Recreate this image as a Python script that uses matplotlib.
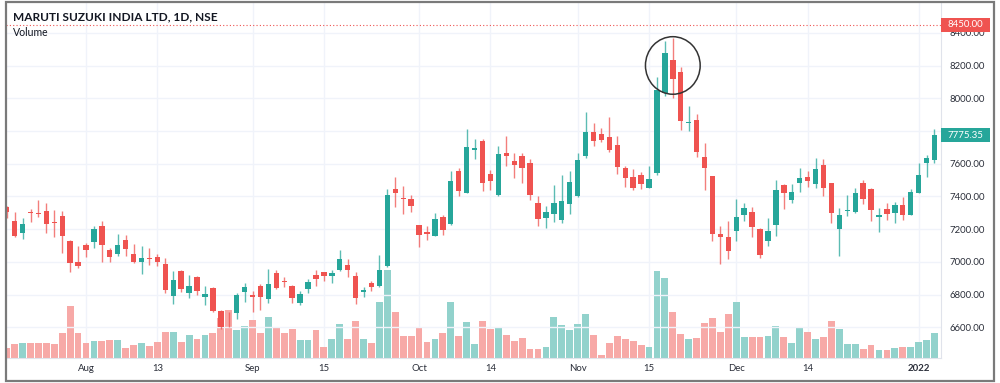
import numpy as np
import matplotlib.pyplot as plt
import matplotlib.transforms as mtransforms
from matplotlib.patches import Rectangle, Ellipse

plt.rcParams['font.family'] = ['Lato', 'DejaVu Sans']

# ---- data (daily candles, 16 Jul 2021 -> 5 Jan 2022) ----
title = "MARUTI SUZUKI INDIA LTD, 1D, NSE"

opens = [7335, 7251, 7178, 7304, 7300, 7308, 7245, 7282, 7129, 7000,
         7104, 7121, 7221, 7072, 7051, 7135, 7047, 7002, 7021, 7031,
         6984, 6794, 6943, 6811, 6906, 6784, 6841, 6700, 6629, 6686,
         6815, 6800, 6855, 6770, 6929, 6884, 6853, 6747, 6831, 6917,
         6937, 6913, 6953, 6982, 6915, 6817, 6872, 6851, 6974, 7447,
         7392, 7386, 7223, 7182, 7161, 7276, 7233, 7553, 7421, 7682,
         7741, 7539, 7407, 7668, 7617, 7649, 7602, 7357, 7270, 7290,
         7253, 7351, 7400, 7647, 7796, 7780, 7763, 7712, 7574, 7517,
         7533, 7453, 7545, 8035, 8237, 8159, 7847, 7868, 7641, 7523,
         7168, 7154, 7190, 7288, 7307, 7198, 7129, 7227, 7470, 7380,
         7482, 7520, 7478, 7592, 7480, 7200, 7308, 7302, 7484, 7443,
         7276, 7321, 7296, 7349, 7286, 7421, 7602, 7625]
highs = [7340, 7302, 7267, 7325, 7376, 7359, 7318, 7312, 7135, 7096,
         7114, 7219, 7247, 7082, 7170, 7165, 7108, 7098, 7086, 7051,
         7021, 6943, 6950, 6919, 6915, 6853, 6845, 6705, 6694, 6808,
         6872, 6821, 6862, 6959, 6951, 6910, 6859, 6819, 6896, 6953,
         6940, 6949, 7070, 7015, 6939, 6845, 6882, 7041, 7447, 7521,
         7463, 7406, 7226, 7217, 7300, 7284, 7557, 7572, 7814, 7751,
         7751, 7564, 7706, 7768, 7668, 7666, 7629, 7400, 7339, 7468,
         7533, 7555, 7665, 7914, 7847, 7820, 7888, 7767, 7588, 7568,
         7547, 7584, 8129, 8349, 8369, 8190, 7955, 7904, 7725, 7526,
         7217, 7251, 7384, 7360, 7335, 7204, 7266, 7502, 7474, 7474,
         7576, 7557, 7637, 7627, 7482, 7327, 7406, 7453, 7500, 7453,
         7331, 7361, 7365, 7398, 7447, 7606, 7651, 7810]
lows = [7267, 7151, 7139, 7243, 7274, 7176, 7155, 7057, 6935, 6961,
        7027, 7082, 7000, 7000, 7037, 7037, 6992, 6925, 6980, 6972,
        6808, 6743, 6817, 6776, 6800, 6739, 6694, 6590, 6600, 6651,
        6757, 6696, 6708, 6747, 6833, 6849, 6751, 6739, 6808, 6851,
        6882, 6872, 6945, 6908, 6743, 6784, 6819, 6847, 6970, 7335,
        7294, 7304, 7090, 7133, 7157, 7164, 7227, 7400, 7418, 7629,
        7431, 7441, 7400, 7584, 7513, 7482, 7380, 7221, 7210, 7245,
        7237, 7292, 7396, 7633, 7710, 7733, 7674, 7539, 7455, 7441,
        7443, 7450, 7533, 8012, 8002, 7806, 7802, 7639, 7439, 7129,
        6985, 7015, 7129, 7247, 7149, 7021, 7097, 7156, 7325, 7357,
        7427, 7457, 7451, 7402, 7239, 7035, 7280, 7300, 7353, 7249,
        7182, 7257, 7239, 7255, 7284, 7419, 7518, 7606]
closes = [7302, 7159, 7231, 7298, 7292, 7233, 7239, 7161, 6992, 6976,
          7074, 7200, 7100, 7029, 7102, 7080, 7002, 7021, 7015, 7000,
          6827, 6888, 6837, 6851, 6821, 6804, 6702, 6604, 6623, 6798,
          6847, 6782, 6788, 6866, 6841, 6874, 6780, 6804, 6876, 6896,
          6913, 6933, 7015, 6953, 6778, 6829, 6845, 6953, 7406, 7420,
          7384, 7339, 7164, 7170, 7259, 7196, 7494, 7431, 7700, 7694,
          7480, 7496, 7659, 7649, 7590, 7572, 7409, 7264, 7302, 7357,
          7374, 7486, 7621, 7796, 7737, 7747, 7682, 7578, 7515, 7451,
          7478, 7506, 8053, 8278, 8118, 7863, 7855, 7670, 7573, 7170,
          7152, 7068, 7276, 7327, 7213, 7043, 7186, 7440, 7421, 7427,
          7514, 7492, 7565, 7451, 7296, 7288, 7316, 7423, 7384, 7319,
          7288, 7294, 7349, 7284, 7427, 7529, 7633, 7775.35]
# volume, million shares (estimated)
volume_m = [0.41, 0.55, 0.59, 0.61, 0.61, 0.61, 0.57, 1.01, 2.07, 0.99,
            0.61, 0.68, 0.68, 0.72, 0.71, 0.39, 0.52, 0.59, 0.48, 0.63,
            1.05, 1.05, 0.63, 0.92, 0.75, 0.92, 1.01, 1.61, 1.92, 1.12,
            1.28, 1.52, 1.01, 1.63, 1.23, 1.01, 1.15, 0.71, 0.71, 1.12,
            0.44, 0.77, 1.35, 0.77, 1.48, 0.77, 0.61, 2.23, 3.52, 1.83,
            0.88, 0.88, 1.24, 0.64, 0.77, 1.01, 2.23, 0.88, 1.45, 0.57,
            1.48, 1.15, 1.24, 0.91, 0.68, 0.79, 0.35, 0.37, 0.44, 1.65,
            1.32, 1.12, 1.37, 1.75, 0.91, 0.11, 0.61, 0.87, 0.77, 0.68,
            0.52, 0.44, 3.49, 3.19, 1.83, 0.95, 0.77, 0.81, 1.39, 1.59,
            1.03, 1.75, 2.25, 0.84, 0.84, 0.84, 0.88, 1.28, 0.84, 0.61,
            1.21, 1.05, 0.75, 0.84, 1.48, 1.17, 0.57, 0.55, 0.37, 0.51,
            0.31, 0.31, 0.41, 0.44, 0.44, 0.65, 0.72, 0.99]

tick_idx = [10, 19, 31, 40, 52, 61, 72, 81, 92, 101, 115]
tick_lbl = ['Aug', '13', 'Sep', '15', 'Oct', '14', 'Nov', '15', 'Dec', '14', '2022']
price_ticks = np.arange(6600, 8401, 200)
marked_level = 8450.00
last_price = closes[-1]
circled_idx = 84

UP, DOWN = '#26a69a', '#ef5350'
UP_VOL, DOWN_VOL = '#92d2cc', '#f7a9a7'
GRID = '#f0f3fa'
TXT = '#2a2e39'

o = np.array(opens, float)
h = np.array(highs, float)
l = np.array(lows, float)
c = np.array(closes, float)
x = np.arange(len(o))
up = c >= o

W, H = 1000, 383
fig = plt.figure(figsize=(W / 100, H / 100), dpi=100)


def fx(px):
    return px / W


def fy(py):
    return 1 - py / H


axv = fig.add_axes([fx(6), fy(358), fx(941) - fx(6), fy(3) - fy(358)])
axp = axv.twinx()

# volume pane
axv.bar(x, volume_m, width=0.86, color=np.where(up, UP_VOL, DOWN_VOL), zorder=2)
axv.set_ylim(0, 14.2)
axv.set_yticks([])

# grid (drawn on the lower axes so it sits behind everything)
for t in tick_idx:
    axv.axvline(t, color=GRID, lw=1, zorder=0)

axp.set_ylim(6412, 8583)
axp.set_xlim(-0.09, 117.82)
axv.set_xlim(-0.09, 117.82)
for p in price_ticks:
    axp.axhline(p, color=GRID, lw=1, zorder=0)

# candles
cols = np.where(up, UP, DOWN)
axp.vlines(x, l, h, colors=cols, lw=1, alpha=0.75, zorder=3)
body = np.maximum(np.abs(c - o), 6)
axp.bar(x, body, bottom=np.minimum(o, c), width=0.68, color=cols, zorder=4)

# marked level line + labels
axp.axhline(marked_level, color=DOWN, ls=(0, (1, 2)), lw=0.8, zorder=3)

axp.yaxis.tick_right()
axp.set_yticks(price_ticks)
axp.set_yticklabels([f"{p:.2f}" for p in price_ticks])
axp.tick_params(axis='y', length=0, pad=5.8, labelsize=6.9, labelcolor=TXT)

axv.set_xticks(tick_idx)
axv.set_xticklabels(tick_lbl)
axv.tick_params(axis='x', length=0, pad=4.6, labelsize=6.9, labelcolor=TXT)
axv.get_xticklabels()[-1].set_fontweight('bold')

trans = mtransforms.blended_transform_factory(axp.transAxes, axp.transData)
half = 7.2 / 0.1635
bw = 49 / 935
for level, colr in [(marked_level, DOWN), (last_price, UP)]:
    axp.add_patch(Rectangle((1.0, level - half), bw, 2 * half, transform=trans,
                            facecolor=colr, edgecolor='none', clip_on=False, zorder=10))
    axp.text(1.0 + bw / 2, level, f"{level:.2f}", transform=trans, ha='center',
             va='center', color='white', fontsize=6.9, clip_on=False, zorder=11)

# circle round the peak
axp.add_patch(Ellipse((circled_idx, 8201), 6.9, 352, fill=False,
                      edgecolor='#333333', lw=1.1, zorder=6))

for ax in (axv, axp):
    for s in ax.spines.values():
        s.set_visible(False)
axv.spines['bottom'].set_visible(True)
axv.spines['bottom'].set_color('#e0e3eb')
axp.spines['right'].set_visible(True)
axp.spines['right'].set_color('#e0e3eb')

fig.text(fx(13), fy(17), title, ha='left', va='center', fontsize=8.6,
         fontweight='bold', color='#131722')
fig.text(fx(13), fy(32), "Volume", ha='left', va='center', fontsize=7.6,
         color='#131722')

fig.add_artist(Rectangle((fx(5.5), fy(381)), fx(994) - fx(5.5), fy(2) - fy(381),
                         transform=fig.transFigure, fill=False,
                         edgecolor='#7a7a7a', lw=1.6))

fig.savefig('out.png', dpi=100, facecolor='white')
